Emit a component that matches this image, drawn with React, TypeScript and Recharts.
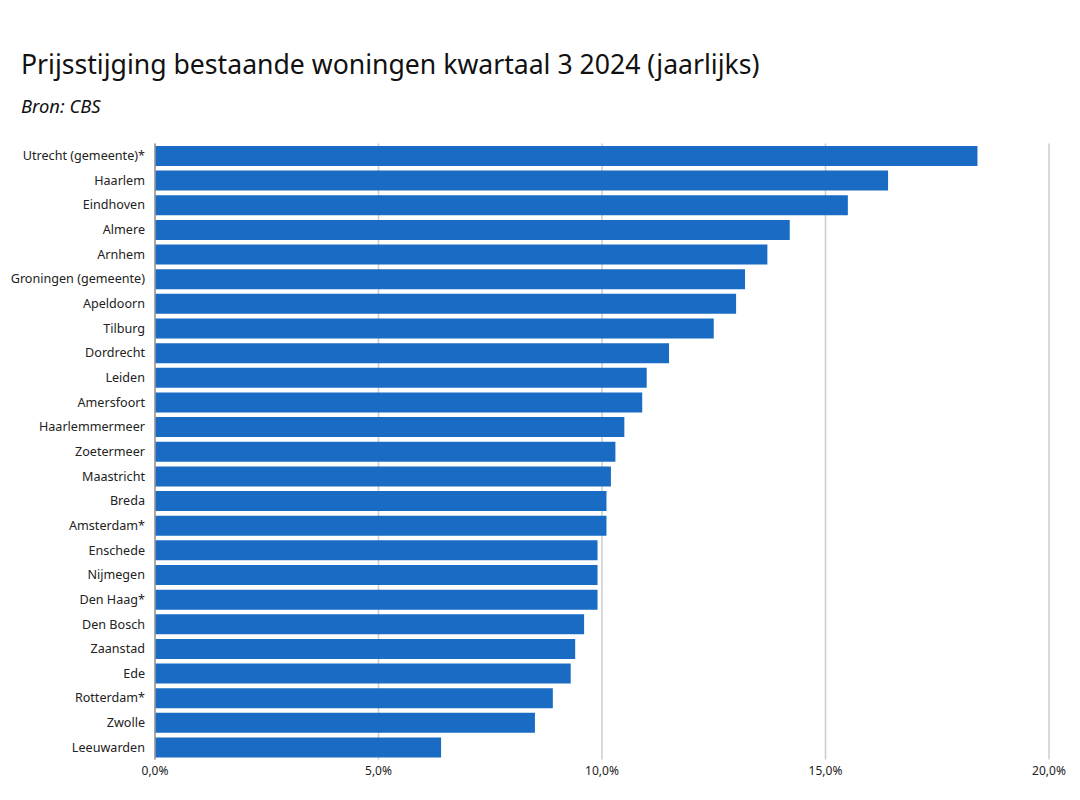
import { BarChart, Bar, XAxis, YAxis, CartesianGrid } from 'recharts'

const gemeenten = [
  'Utrecht (gemeente)*',
  'Haarlem',
  'Eindhoven',
  'Almere',
  'Arnhem',
  'Groningen (gemeente)',
  'Apeldoorn',
  'Tilburg',
  'Dordrecht',
  'Leiden',
  'Amersfoort',
  'Haarlemmermeer',
  'Zoetermeer',
  'Maastricht',
  'Breda',
  'Amsterdam*',
  'Enschede',
  'Nijmegen',
  'Den Haag*',
  'Den Bosch',
  'Zaanstad',
  'Ede',
  'Rotterdam*',
  'Zwolle',
  'Leeuwarden',
]

const stijging = [
  18.4, 16.4, 15.5, 14.2, 13.7, 13.2, 13.0, 12.5, 11.5, 11.0, 10.9, 10.5, 10.3,
  10.2, 10.1, 10.1, 9.9, 9.9, 9.9, 9.6, 9.4, 9.3, 8.9, 8.5, 6.4,
]

const xTicks = [0, 5, 10, 15, 20]

const data = gemeenten.map((naam, i) => ({ naam, waarde: stijging[i] }))

const fmt = (v: number) => v.toFixed(1).replace('.', ',') + '%'

export default function App() {
  return (
    <div
      style={{
        position: 'absolute',
        left: 0,
        top: 0,
        width: 1080,
        height: 800,
        background: '#fff',
        fontFamily: '"Noto Sans", sans-serif',
        color: '#111',
      }}
    >
      <div style={{ position: 'absolute', left: 21, top: 46, fontSize: 26.6, lineHeight: '36px' }}>
        Prijsstijging bestaande woningen kwartaal 3 2024 (jaarlijks)
      </div>
      <div
        style={{
          position: 'absolute',
          left: 21,
          top: 93,
          fontSize: 18.4,
          lineHeight: '25px',
          fontStyle: 'italic',
        }}
      >
        Bron: CBS
      </div>
      <div style={{ position: 'absolute', left: 0, top: 0 }}>
        <BarChart
          width={1080}
          height={800}
          data={data}
          layout="vertical"
          margin={{ top: 143.4, right: 31, bottom: 10.4, left: 0 }}
          barCategoryGap={2.57}
        >
          <CartesianGrid horizontal={false} stroke="#cccccc" strokeWidth={1.5} />
          <XAxis
            type="number"
            domain={[0, 20]}
            ticks={xTicks}
            tickFormatter={fmt}
            axisLine={false}
            tickLine={false}
            tickSize={0}
            tickMargin={7}
            height={30}
            tick={{ fontSize: 12, fill: '#222' }}
          />
          <YAxis
            type="category"
            dataKey="naam"
            width={155}
            axisLine={{ stroke: '#999999', strokeWidth: 1.5 }}
            tickLine={false}
            tickSize={0}
            tickMargin={10}
            interval={0}
            tick={{ fontSize: 12.6, fill: '#222' }}
          />
          <Bar dataKey="waarde" fill="#1a6bc4" isAnimationActive={false} />
        </BarChart>
      </div>
    </div>
  )
}
